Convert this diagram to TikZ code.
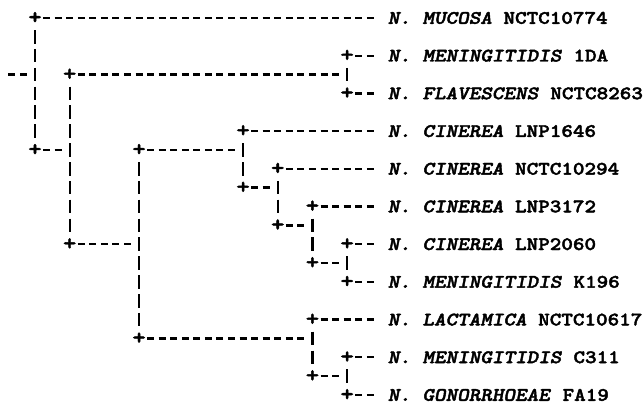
\documentclass[tikz,border=0pt]{standalone}
\usepackage{fontspec}
\newfontfamily\treefont{lmmonolt10-bold.otf}[FakeStretch=1.16,FakeBold=2.2,ItalicFont=lmmonolt10-boldoblique.otf]

\begin{document}
\begin{tikzpicture}
  [x=11.56pt,y=-18.85pt,
   every node/.style={inner sep=0pt,font=\treefont\fontsize{19pt}{19pt}\selectfont\frenchspacing},
   joint/.style={anchor=center,scale=1.15},
   leaf/.style={anchor=base west,yshift=-5.8pt},
   hbar/.style={line width=2.3pt,dash pattern=on 7pt off 4.56pt,shorten <=8.06pt},
   vbar/.style={line width=2.3pt,dash pattern=on 13.5pt off 5.35pt,shorten <=12.1pt,shorten >=12.1pt}]
  \useasboundingbox (-1.0294,-0.9549) rectangle (54.594,20.690);

  % inner nodes of the tree
  \coordinate (stub) at (-0.303,3);
  \coordinate (root) at (2,3);
  \coordinate (n1) at (5,7);
  \coordinate (n2) at (29,3);
  \coordinate (n3) at (11,12);
  \coordinate (n4) at (20,7);
  \coordinate (n5) at (23,9);
  \coordinate (n6) at (26,11);
  \coordinate (n6b) at (29,13);
  \coordinate (n7) at (26,17);
  \coordinate (n8) at (29,19);

  % strains
  \node[leaf] (mucosa) at (32.5,0)  {\textit{N. MUCOSA} NCTC10774};
  \node[leaf] (menA) at (32.5,2)    {\textit{N. MENINGITIDIS} 1DA};
  \node[leaf] (flav) at (32.5,4)    {\textit{N. FLAVESCENS} NCTC8263};
  \node[leaf] (cinA) at (32.5,6)    {\textit{N. CINEREA} LNP1646};
  \node[leaf] (cinB) at (32.5,8)    {\textit{N. CINEREA} NCTC10294};
  \node[leaf] (cinC) at (32.5,10)   {\textit{N. CINEREA} LNP3172};
  \node[leaf] (cinD) at (32.5,12)   {\textit{N. CINEREA} LNP2060};
  \node[leaf] (menB) at (32.5,14)   {\textit{N. MENINGITIDIS} K196};
  \node[leaf] (lact) at (32.5,16)   {\textit{N. LACTAMICA} NCTC10617};
  \node[leaf] (menC) at (32.5,18)   {\textit{N. MENINGITIDIS} C311};
  \node[leaf] (gono) at (32.5,20)   {\textit{N. GONORRHOEAE} FA19};

  % corners
  \foreach \j/\c/\r in {j0/2/0, j1/2/7, j2/5/3, j3/5/12, j4/29/2, j5/29/4,
                        j6/11/7, j7/11/17, j8/20/6, j9/20/9, j10/23/8, j11/23/11,
                        j12/26/10, j13/26/13, j14/29/12, j15/29/14, j16/26/16,
                        j17/26/19, j18/29/18, j19/29/20}
    \node[joint] (\j) at (\c,\r) {+};

  \draw[hbar,shorten <=0pt,shorten >=8.06pt] (stub) -- (root);

  \foreach \from/\to in {j1/n1, j2/n2, j3/n3, j6/n4, j7/n7, j9/n5, j11/n6, j13/n6b, j17/n8}
    \draw[hbar,shorten >=8.06pt] (\from.center) -- (\to);

  \foreach \from/\to in {j0/mucosa, j4/menA, j5/flav, j8/cinA, j10/cinB, j12/cinC,
                         j14/cinD, j15/menB, j16/lact, j18/menC, j19/gono}
    \draw[hbar,shorten >=13.84pt] (\from.center) -- (\from.center -| \to.west);

  \foreach \from/\to in {j0/j1, j2/j3, j4/j5, j6/j7, j8/j9, j10/j11, j12/j13,
                         j14/j15, j16/j17, j18/j19}
    \draw[vbar] (\from.center) -- (\to.center);

\end{tikzpicture}
\end{document}
